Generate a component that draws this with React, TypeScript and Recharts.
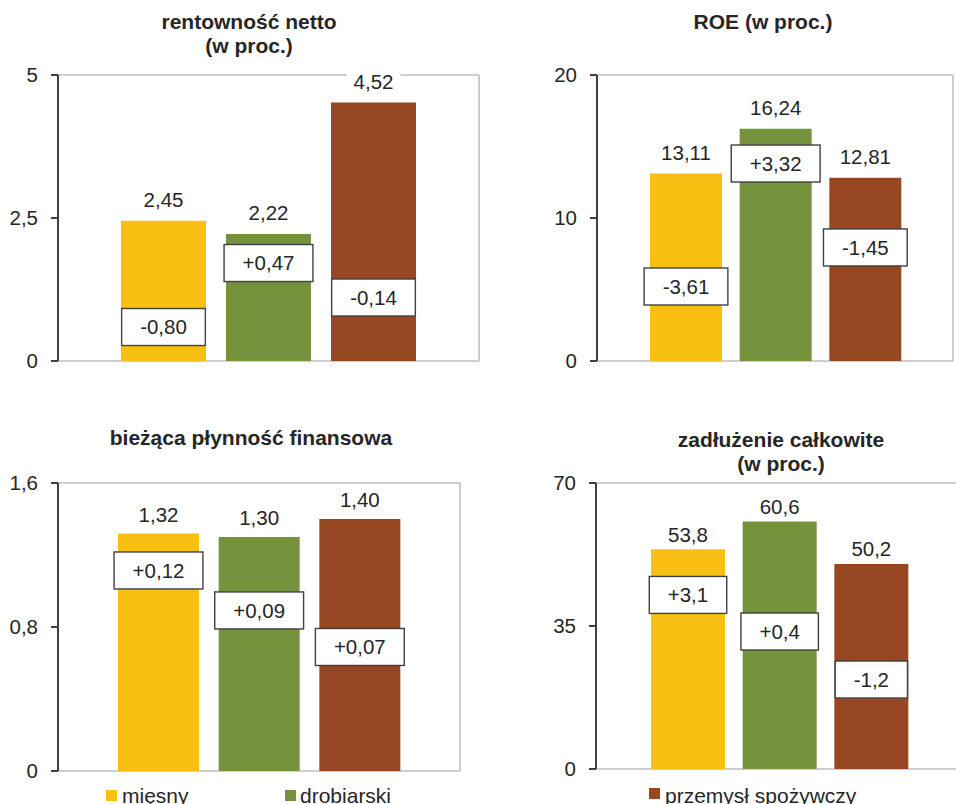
import React from "react";
import { BarChart, Bar, Cell, XAxis, YAxis, LabelList, CartesianGrid } from "recharts";

// sectors and indicator values (level + change vs. previous year)
const sectors = ["mięsny", "drobiarski", "przemysł spożywczy"];

const netProfitability = [2.45, 2.22, 4.52];
const netProfitabilityChange = [-0.8, 0.47, -0.14];
const netProfitabilityTicks = [0, 2.5, 5];

const roe = [13.11, 16.24, 12.81];
const roeChange = [-3.61, 3.32, -1.45];
const roeTicks = [0, 10, 20];

const currentLiquidity = [1.32, 1.3, 1.4];
const currentLiquidityChange = [0.12, 0.09, 0.07];
const currentLiquidityTicks = [0, 0.8, 1.6];

const totalDebt = [53.8, 60.6, 50.2];
const totalDebtChange = [3.1, 0.4, -1.2];
const totalDebtTicks = [0, 35, 70];

const FONT = '"Liberation Sans", Arial, sans-serif';
const TEXT = "#262626";
const AXIS = "#404040";
const FRAME = "#BFBFBF";
const COLORS = ["#F9C013", "#76923C", "#974822"];
const FS = 20.5;

const charW: Record<string, number> = { "+": 0.584, "-": 0.333, ",": 0.278 };
const textWidth = (s: string, fs: number) =>
  [...s].reduce((a, c) => a + (charW[c] ?? 0.556), 0) * fs;

const fmt = (v: number, d: number) => v.toFixed(d).replace(".", ",");
const fmtChange = (v: number, d: number) => (v > 0 ? "+" : "") + fmt(v, d);
const fmtTick = (v: number) => String(v).replace(".", ",");

type Panel = {
  title: string[];
  values: number[];
  changes: number[];
  ticks: number[];
  decimals: number;
  left: number;
  top: number;
  width: number;
  height: number;
  margin: { top: number; right: number; bottom: number; left: number };
  yWidth: number;
  pad: [number, number];
  barSize: number;
  labelGap: number;
  boxAt: number[]; // box centre, in axis units
  titleCenter: number;
  titleTop: number;
};

const panels: Panel[] = [
  {
    title: ["rentowność netto", "(w proc.)"],
    values: netProfitability,
    changes: netProfitabilityChange,
    ticks: netProfitabilityTicks,
    decimals: 2,
    left: 0, top: 0, width: 480, height: 400,
    margin: { top: 75, right: 1, bottom: 39, left: 0 },
    yWidth: 58, pad: [53, 53], barSize: 85, labelGap: 21,
    boxAt: [0.594, 1.713, 1.11],
    titleCenter: 249, titleTop: 10,
  },
  {
    title: ["ROE (w proc.)"],
    values: roe,
    changes: roeChange,
    ticks: roeTicks,
    decimals: 2,
    left: 480, top: 0, width: 476, height: 400,
    margin: { top: 75, right: 3, bottom: 39, left: 0 },
    yWidth: 117, pad: [44, 43], barSize: 72, labelGap: 21,
    boxAt: [5.21, 13.81, 7.94],
    titleCenter: 763, titleTop: 10,
  },
  {
    title: ["bieżąca płynność finansowa"],
    values: currentLiquidity,
    changes: currentLiquidityChange,
    ticks: currentLiquidityTicks,
    decimals: 2,
    left: 0, top: 400, width: 480, height: 404,
    margin: { top: 83, right: 20, bottom: 33, left: 0 },
    yWidth: 58, pad: [50, 50], barSize: 81, labelGap: 19,
    boxAt: [1.114, 0.892, 0.689],
    titleCenter: 251, titleTop: 426,
  },
  {
    title: ["zadłużenie całkowite", "(w proc.)"],
    values: totalDebt,
    changes: totalDebtChange,
    ticks: totalDebtTicks,
    decimals: 1,
    left: 480, top: 400, width: 490, height: 404,
    margin: { top: 83, right: 7, bottom: 35, left: 0 },
    yWidth: 116, pad: [46, 46], barSize: 74, labelGap: 15,
    boxAt: [42.6, 33.65, 21.9],
    titleCenter: 781, titleTop: 428,
  },
];

function IndicatorChart({ p }: { p: Panel }) {
  const rows = sectors.map((name, i) => ({ name, value: p.values[i], change: p.changes[i] }));
  const max = p.ticks[p.ticks.length - 1];

  const valueLabel = (props: any) => {
    const vb = props.viewBox ?? props;
    const cx = vb.x + vb.width / 2;
    const cy = vb.y - p.labelGap;
    const text = fmt(Number(props.value), p.decimals);
    const w = textWidth(text, FS) + 14;
    return (
      <g>
        <rect x={cx - w / 2} y={cy - 11} width={w} height={22} fill="#fff" />
        <text x={cx} y={cy} dy="0.36em" textAnchor="middle" fill={TEXT} fontSize={FS} fontFamily={FONT}>
          {text}
        </text>
      </g>
    );
  };

  const changeBox = (props: any) => {
    const vb = props.viewBox ?? props;
    const i = props.index ?? 0;
    const bottom = vb.y + vb.height;
    const cy = bottom - (p.boxAt[i] * vb.height) / p.values[i];
    const cx = vb.x + vb.width / 2;
    const text = fmtChange(Number(props.value), p.decimals);
    const w = textWidth(text, FS) + 37;
    const h = 37;
    return (
      <g>
        <rect x={cx - w / 2} y={cy - h / 2} width={w} height={h} fill="#fff" stroke={AXIS} strokeWidth={1.4} />
        <text x={cx} y={cy} dy="0.36em" textAnchor="middle" fill={TEXT} fontSize={FS} fontFamily={FONT}>
          {text}
        </text>
      </g>
    );
  };

  return (
    <div style={{ position: "absolute", left: p.left, top: p.top }}>
      <BarChart width={p.width} height={p.height} data={rows} margin={p.margin}>
        {/* plot-area frame: top, bottom and right edges */}
        <CartesianGrid
          stroke={FRAME}
          strokeWidth={1.6}
          horizontalCoordinatesGenerator={({ offset }: any) => [offset.top, offset.top + offset.height]}
          verticalCoordinatesGenerator={({ offset }: any) => [offset.left + offset.width]}
        />
        <XAxis
          dataKey="name"
          tick={false}
          tickLine={false}
          axisLine={false}
          height={0}
          padding={{ left: p.pad[0], right: p.pad[1] }}
        />
        <YAxis
          domain={[0, max]}
          ticks={p.ticks}
          interval={0}
          allowDataOverflow
          tickFormatter={fmtTick}
          width={p.yWidth}
          tickSize={7}
          tickMargin={13}
          axisLine={{ stroke: AXIS, strokeWidth: 2 }}
          tickLine={{ stroke: AXIS, strokeWidth: 2 }}
          tick={{ fill: TEXT, fontSize: FS, fontFamily: FONT }}
        />
        <Bar dataKey="value" barSize={p.barSize} isAnimationActive={false}>
          {rows.map((r, i) => (
            <Cell key={r.name} fill={COLORS[i]} />
          ))}
          <LabelList dataKey="value" content={valueLabel} />
          <LabelList dataKey="change" content={changeBox} />
        </Bar>
      </BarChart>
      <div
        style={{
          position: "absolute",
          left: p.titleCenter - p.left - 220,
          top: p.titleTop - p.top,
          width: 440,
          textAlign: "center",
          fontFamily: FONT,
          fontWeight: "bold",
          fontSize: 21,
          lineHeight: "24px",
          color: TEXT,
        }}
      >
        {p.title.map((t) => (
          <div key={t}>{t}</div>
        ))}
      </div>
    </div>
  );
}

const legendPos = [
  { box: 106, text: 122, top: 790 },
  { box: 285, text: 300, top: 790 },
  { box: 649, text: 665, top: 788 },
];

export default function App() {
  return (
    <div
      style={{
        position: "absolute",
        left: 0,
        top: 0,
        width: 956,
        height: 804,
        overflow: "hidden",
        background: "#fff",
      }}
    >
      {panels.map((p) => (
        <IndicatorChart key={p.title[0]} p={p} />
      ))}
      {sectors.map((s, i) => (
        <React.Fragment key={s}>
          <div
            style={{
              position: "absolute",
              left: legendPos[i].box,
              top: legendPos[i].top,
              width: 11,
              height: 11,
              background: COLORS[i],
            }}
          />
          <div
            style={{
              position: "absolute",
              left: legendPos[i].text,
              top: 785,
              fontFamily: FONT,
              fontSize: 21,
              lineHeight: "21px",
              color: TEXT,
              whiteSpace: "nowrap",
            }}
          >
            {s}
          </div>
        </React.Fragment>
      ))}
    </div>
  );
}
